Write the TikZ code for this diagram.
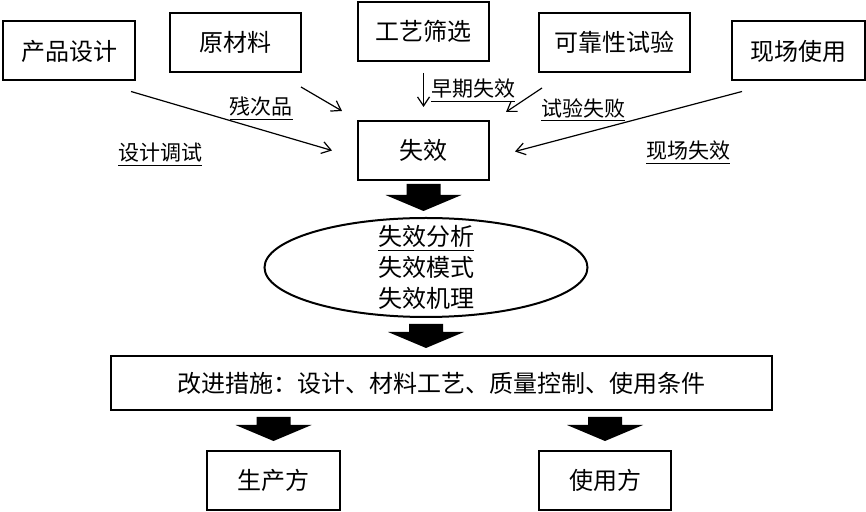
\documentclass[tikz,border=0pt]{standalone}
\usepackage{fontspec}
\newfontfamily\cjk{Noto Sans CJK SC}
\usetikzlibrary{positioning, shapes.geometric, arrows.meta, calc}

% thick black down arrow from #1 (top of shaft) to #2 (tip)
\newcommand\blockarrow[2]{%
  \fill let \p1=(#1), \p2=(#2) in
    (\x1-8.5pt,\y1) -- (\x1+8.5pt,\y1) -- (\x1+8.5pt,\y2+8pt) -- (\x1+19pt,\y2+8pt)
    -- (\x1,\y2) -- (\x1-19pt,\y2+8pt) -- (\x1-8.5pt,\y2+8pt) -- cycle;}

\begin{document}
\begin{tikzpicture}[x=0.5pt, y=-0.5pt, font=\cjk\fontsize{12}{14}\selectfont,
    box/.style={draw, line width=1pt, inner sep=0pt, minimum height=29.5pt},
    lbl/.style={font=\cjk\fontsize{10.5}{12}\selectfont, inner sep=0pt},
    flow/.style={-{Straight Barb[length=4.5pt, width=6pt]}, line width=0.6pt}]
  \useasboundingbox (0,0) rectangle (866,512);
  % sources of failure
  \node[box, minimum width=66pt] (design) at (69,51) {产品设计};
  \node[box, minimum width=65.5pt] (material) at (235.5,42.5) {原材料};
  \node[box, minimum width=65.5pt] (screen) at (423.5,31.5) {工艺筛选};
  \node[box, minimum width=75.5pt] (reltest) at (614.5,42.5) {可靠性试验};
  \node[box, minimum width=66.5pt] (field) at (798.5,51) {现场使用};
  \node[box, minimum width=65.5pt] (fail) at (423.5,150.5) {失效};
  \node[ellipse, draw, line width=1pt, minimum width=161.5pt, minimum height=49.5pt, inner sep=0pt,
    label={[align=center, inner sep=0pt, font=\cjk\fontsize{12}{15.5}\selectfont]center:{\underline{失效分析}\\失效模式\\失效机理}}]
    (analysis) at (426,267.5) {};
  \node[box, minimum width=330.5pt, minimum height=27pt] (measure) at (441.5,383)
    {改进措施：设计、材料工艺、质量控制、使用条件};
  \node[box, minimum width=66.5pt] (maker) at (273.5,480.5) {生产方};
  \node[box, minimum width=66pt] (user) at (605,480.5) {使用方};

  \draw[flow] ([shift={(-5,10)}]design.south east) -- ([shift={(-25,0)}]fail.west);
  \draw[flow] ([shift={(-1,14)}]material.south east) -- ([shift={(-15,-9)}]fail.north west);
  \draw[flow] ([shift={(0,11)}]screen.south) -- ([shift={(0,-13)}]fail.north);
  \draw[flow] ([shift={(4,15)}]reltest.south west) -- ([shift={(16,-8)}]fail.north east);
  \draw[flow] ([shift={(11,10)}]field.south west) -- ([shift={(25,1)}]fail.east);

  \node[lbl] (defect) at (261,109) {\underline{残次品}};
  \node[lbl] (debug) at (160,155) {\underline{设计调试}};
  \node[lbl] (early) at (473,91) {\underline{早期失效}};
  \node[lbl] (testfail) at (583,110) {\underline{试验失败}};
  \node[lbl] (fieldfail) at (688,153) {\underline{现场失效}};

  % block arrows
  \blockarrow{[yshift=-1.5pt]fail.south}{[yshift=3pt]analysis.north}
  \blockarrow{[yshift=-3pt]analysis.south}{[yshift=3.5pt]measure.north}
  \coordinate (m1) at (maker.north |- measure.south);
  \coordinate (m2) at (user.north |- measure.south);
  \blockarrow{[yshift=-3pt]m1}{[yshift=4.5pt]maker.north}
  \blockarrow{[yshift=-3pt]m2}{[yshift=4.5pt]user.north}
\end{tikzpicture}
\end{document}
